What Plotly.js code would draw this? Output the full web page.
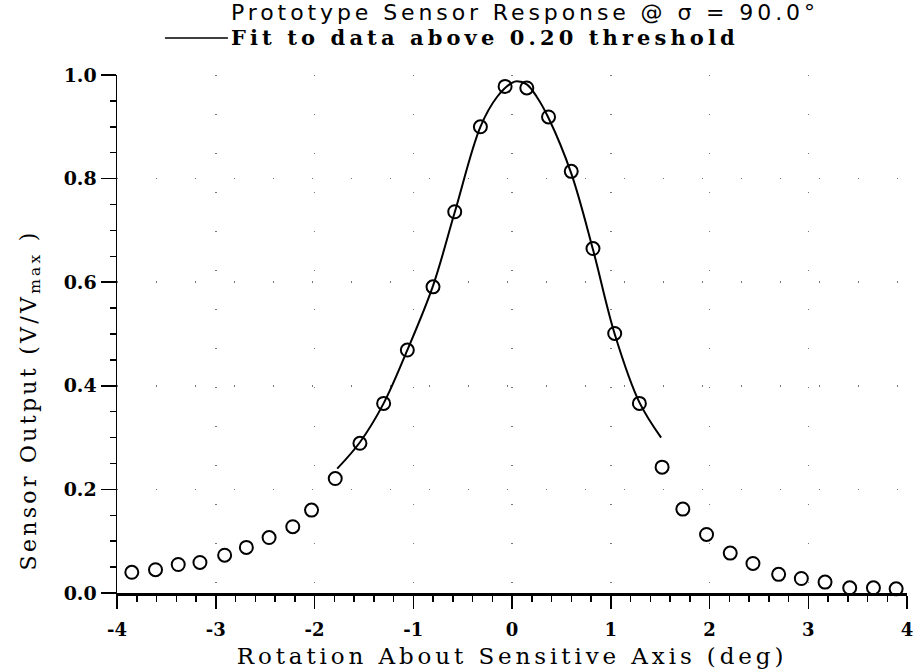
<!DOCTYPE html>
<html>
<head>
<meta charset="utf-8">
<script src="https://cdn.plot.ly/plotly-3.0.1.min.js"></script>
<style>
html,body{margin:0;padding:0;background:#fff;}
#chart{width:914px;height:672px;}
</style>
</head>
<body>
<div id="chart"></div>
<script>
// Measured sensor response (open circles)
const angleDeg = [-3.85,-3.61,-3.38,-3.16,-2.91,-2.69,-2.46,-2.22,-2.03,-1.79,-1.54,-1.30,-1.06,-0.80,-0.58,-0.32,-0.07,0.15,0.37,0.60,0.82,1.04,1.29,1.52,1.73,1.97,2.21,2.44,2.70,2.93,3.17,3.42,3.66,3.89];
const responseV = [0.040,0.045,0.055,0.059,0.073,0.088,0.107,0.128,0.160,0.221,0.289,0.366,0.469,0.591,0.736,0.900,0.978,0.975,0.919,0.814,0.665,0.501,0.366,0.243,0.162,0.113,0.077,0.057,0.036,0.028,0.021,0.010,0.010,0.008];

// Fit curve
const fitX = [-1.77,-1.54,-1.30,-1.06,-0.80,-0.58,-0.32,-0.15,0.00,0.05,0.15,0.25,0.37,0.60,0.82,1.04,1.29,1.51];
const fitY = [0.240,0.291,0.366,0.469,0.593,0.735,0.900,0.958,0.985,0.988,0.982,0.958,0.917,0.810,0.663,0.500,0.368,0.300];

// Tick labels
const xTickVals = [-4,-3,-2,-1,0,1,2,3,4];
const xTickText = ['-4','-3','-2','-1','0','1','2','3','4'];
const yTickVals = [0,0.2,0.4,0.6,0.8,1.0];
const yTickText = ['0.0','0.2','0.4','0.6','0.8','1.0'];

const legendData = 'Prototype Sensor Response @ σ = 90.0°';
const legendFit = 'Fit to data above 0.20 threshold';
const xTitle = 'Rotation About Sensitive Axis (deg)';
const yTitle = 'Sensor Output (V/V<sub>max</sub> )';

const serif = '"DejaVu Serif", "Liberation Serif", serif';
const sans = '"DejaVu Sans", "Liberation Sans", sans-serif';

function spaced(txt, px) {
  return '<span style="letter-spacing:' + px + 'px">' + txt + '</span>';
}

const traces = [
  {
    x: fitX, y: fitY, type: 'scatter', mode: 'lines',
    line: {color: '#000', width: 2, shape: 'spline', smoothing: 1},
    showlegend: false, hoverinfo: 'skip'
  },
  {
    x: angleDeg, y: responseV, type: 'scatter', mode: 'markers',
    marker: {symbol: 'circle-open', size: 13, color: '#000', line: {color: '#000', width: 2}},
    showlegend: false, cliponaxis: false
  }
];

const layout = {
  width: 914, height: 672,
  margin: {l: 117, r: 7, t: 75, b: 79},
  paper_bgcolor: '#fff', plot_bgcolor: '#fff',
  showlegend: false,
  xaxis: {
    range: [-4, 4], tickvals: xTickVals, ticktext: xTickText,
    ticks: 'outside', ticklen: 13, tickwidth: 1.5, tickcolor: '#000',
    minor: {dtick: 0.2, ticks: 'outside', ticklen: 6, tickwidth: 1.5, tickcolor: '#000', showgrid: false},
    showline: true, linecolor: '#000', linewidth: 2.5,
    showgrid: true, gridcolor: '#777', gridwidth: 1.5, griddash: '1px,38px',
    zeroline: false, ticklabelstandoff: 6,
    tickfont: {family: serif, size: 18, color: '#000', weight: 'bold'},
    title: {text: spaced(xTitle, 3.9), font: {family: serif, size: 23, color: '#000'}, standoff: 9}
  },
  yaxis: {
    range: [0, 1.0], tickvals: yTickVals, ticktext: yTickText,
    ticks: 'outside', ticklen: 15, tickwidth: 1.5, tickcolor: '#000',
    minor: {dtick: 0.05, ticks: 'outside', ticklen: 6, tickwidth: 1.5, tickcolor: '#000', showgrid: false},
    showline: true, linecolor: '#000', linewidth: 1.5,
    showgrid: true, gridcolor: '#777', gridwidth: 1.5, griddash: '1px,38px',
    zeroline: false,
    tickfont: {family: serif, size: 19, color: '#000', weight: 'bold'}
  },
  shapes: [
    {type: 'line', xref: 'paper', yref: 'paper', x0: 0.0607, x1: 0.1404, y0: 1.0715, y1: 1.0715,
     line: {color: '#000', width: 1.5}}
  ],
  annotations: [
    {xref: 'paper', yref: 'paper', x: 0.1420, y: 1.1198, xanchor: 'left', yanchor: 'middle',
     text: spaced(legendData, 3.9), showarrow: false, font: {family: sans, size: 22, color: '#000'}},
    {xref: 'paper', yref: 'paper', x: 0.1420, y: 1.0733, xanchor: 'left', yanchor: 'middle',
     text: spaced(legendFit, 4.1), showarrow: false, font: {family: serif, size: 21, color: '#000', weight: 'bold'}},
    {xref: 'paper', yref: 'paper', x: -0.110, y: 0.372, xanchor: 'center', yanchor: 'middle',
     textangle: -90, text: spaced(yTitle, 3.3), showarrow: false, font: {family: serif, size: 22, color: '#000'}}
  ]
};

Plotly.newPlot('chart', traces, layout, {displayModeBar: false, staticPlot: true});
</script>
</body>
</html>
